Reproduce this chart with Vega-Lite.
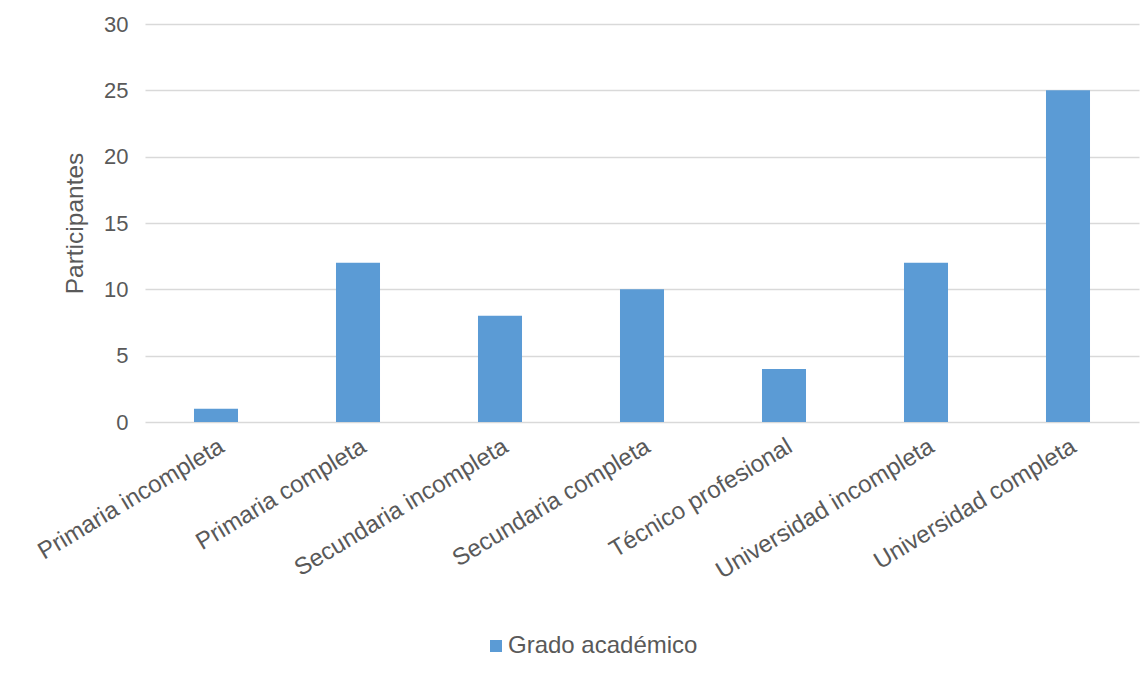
{
  "$schema": "https://vega.github.io/schema/vega-lite/v6.json",
  "width": 994,
  "height": 398,
  "autosize": {"type": "none"},
  "padding": {"left": 145, "top": 24, "right": 8, "bottom": 252},
  "background": "white",
  "data": {
    "values": [
      {"grado": "Primaria incompleta", "participantes": 1, "serie": "Grado académico"},
      {"grado": "Primaria completa", "participantes": 12, "serie": "Grado académico"},
      {"grado": "Secundaria incompleta", "participantes": 8, "serie": "Grado académico"},
      {"grado": "Secundaria completa", "participantes": 10, "serie": "Grado académico"},
      {"grado": "Técnico profesional", "participantes": 4, "serie": "Grado académico"},
      {"grado": "Universidad incompleta", "participantes": 12, "serie": "Grado académico"},
      {"grado": "Universidad completa", "participantes": 25, "serie": "Grado académico"}
    ]
  },
  "mark": {"type": "bar"},
  "encoding": {
    "x": {
      "field": "grado",
      "type": "nominal",
      "sort": null,
      "scale": {"paddingInner": 0.69, "paddingOuter": 0.345},
      "axis": {
        "title": null,
        "labelAngle": -31,
        "labelAlign": "right",
        "labelBaseline": "top",
        "labelPadding": 12,
        "labelDx": -6,
        "labelFontSize": 24,
        "ticks": false,
        "domain": false,
        "labelLimit": 400
      }
    },
    "y": {
      "field": "participantes",
      "type": "quantitative",
      "scale": {"domain": [0, 30]},
      "axis": {
        "title": "Participantes",
        "values": [0, 5, 10, 15, 20, 25, 30],
        "labelFontSize": 22,
        "labelPadding": 17,
        "titleFontSize": 24.5,
        "titlePadding": 16,
        "ticks": false,
        "domain": false,
        "grid": true
      }
    },
    "color": {
      "field": "serie",
      "type": "nominal",
      "scale": {"range": ["#5B9BD5"]},
      "legend": {
        "title": null,
        "orient": "none",
        "legendX": 334,
        "legendY": 605,
        "padding": 5,
        "symbolType": "square",
        "symbolSize": 144,
        "symbolStrokeWidth": 0,
        "labelFontSize": 24,
        "labelOffset": 0,
        "labelLimit": 400
      }
    }
  },
  "config": {
    "font": "Liberation Sans",
    "view": {"stroke": null},
    "axis": {
      "labelColor": "#595959",
      "titleColor": "#595959",
      "titleFontWeight": "normal",
      "gridColor": "#D9D9D9",
      "gridWidth": 1.3,
      "labelFont": "Liberation Sans",
      "titleFont": "Liberation Sans"
    },
    "legend": {
      "labelColor": "#595959",
      "labelFont": "Liberation Sans"
    }
  }
}
